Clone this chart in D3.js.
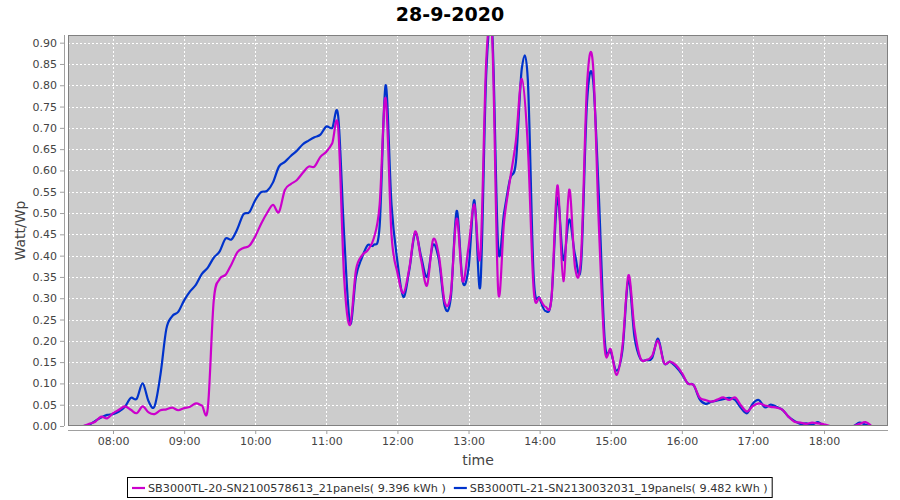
<!DOCTYPE html>
<html><head><meta charset="utf-8">
<script src="https://cdn.jsdelivr.net/npm/d3@7/dist/d3.min.js"></script>
<style>
body{margin:0;background:#fff}
svg{display:block}
text{font-family:"DejaVu Sans",sans-serif}
</style>
</head><body>
<svg id="chart" width="900" height="500"></svg>
<script>
// ---------------- data ----------------
const chartTitle = "28-9-2020";
const xAxisTitle = "time";
const yAxisTitle = "Watt/Wp";
const seriesNames = [
  "SB3000TL-20-SN2100578613_21panels( 9.396 kWh )",
  "SB3000TL-21-SN2130032031_19panels( 9.482 kWh )"
];
const startTime = "07:35";   // first sample
const stepMinutes = 5;       // sampling interval
const xDomainLabels = ["07:22", "18:54"];
const xTickLabels = ["08:00","09:00","10:00","11:00","12:00","13:00","14:00","15:00","16:00","17:00","18:00"];
const yTicks = [0,0.05,0.10,0.15,0.20,0.25,0.30,0.35,0.40,0.45,0.50,0.55,0.60,0.65,0.70,0.75,0.80,0.85,0.90];
const yMax = 0.918;

// SB3000TL-20 (magenta), 07:35 .. 18:40 every 5 min
const magentaValues = [
  0.000,0.005,0.010,0.022,0.018,            // 07:35-07:55
  0.030,0.038,0.046,0.038,0.030,0.046,0.032,0.028,0.037,0.039,0.043,0.037, // 08:00-08:55
  0.042,0.045,0.053,0.048,0.042,0.295,0.345,0.355,0.380,0.408,0.418,0.423, // 09:00-09:55
  0.445,0.475,0.500,0.519,0.502,0.554,0.568,0.577,0.594,0.609,0.609,0.632, // 10:00-10:55
  0.644,0.664,0.700,0.350,0.237,0.366,0.400,0.413,0.440,0.520,0.770,0.450, // 11:00-11:55
  0.360,0.312,0.370,0.457,0.390,0.330,0.437,0.400,0.290,0.310,0.487,0.340, // 12:00-12:55
  0.420,0.520,0.400,0.860,0.910,0.320,0.480,0.578,0.670,0.815,0.660,0.320, // 13:00-13:55
  0.300,0.280,0.300,0.565,0.340,0.555,0.370,0.400,0.800,0.850,0.470,0.180, // 14:00-14:55
  0.180,0.120,0.190,0.354,0.230,0.160,0.155,0.165,0.200,0.148,0.151,0.143, // 15:00-15:55
  0.125,0.100,0.096,0.067,0.061,0.057,0.062,0.067,0.061,0.067,0.048,0.034, // 16:00-16:55
  0.047,0.053,0.048,0.045,0.043,0.038,0.022,0.010,0.008,0.005,0.008,0.006, // 17:00-17:55
  0.004,0.000,0.000,0.000,0.000,0.000,0.005,0.009,0.000                    // 18:00-18:40
];
// SB3000TL-21 (blue)
const blueValues = [
  0.000,0.003,0.012,0.020,0.026,
  0.028,0.034,0.045,0.066,0.064,0.100,0.058,0.046,0.120,0.228,0.258,0.268,
  0.295,0.316,0.332,0.357,0.372,0.395,0.410,0.440,0.438,0.463,0.497,0.502,
  0.530,0.549,0.552,0.572,0.609,0.620,0.634,0.646,0.661,0.670,0.678,0.684,
  0.703,0.700,0.728,0.450,0.241,0.350,0.395,0.425,0.425,0.470,0.800,0.520,
  0.386,0.303,0.366,0.453,0.398,0.350,0.425,0.390,0.280,0.300,0.505,0.340,
  0.370,0.530,0.330,0.830,0.925,0.420,0.500,0.580,0.620,0.840,0.815,0.350,
  0.300,0.270,0.300,0.535,0.390,0.485,0.400,0.380,0.760,0.815,0.540,0.200,
  0.175,0.130,0.180,0.345,0.210,0.158,0.155,0.160,0.205,0.148,0.151,0.139,
  0.122,0.100,0.096,0.063,0.052,0.057,0.060,0.063,0.066,0.061,0.042,0.030,
  0.053,0.061,0.044,0.050,0.045,0.038,0.022,0.012,0.005,0.006,0.003,0.009,
  0.000,0.000,0.000,0.000,0.000,0.000,0.008,0.003,0.000
];

// ---------------- chart ----------------
const svg = d3.select("#chart");
const W = 900, H = 500;
const plot = {left: 68, right: 888, top: 35, bottom: 426};
const parseT = d3.timeParse("%Y-%m-%d %H:%M");
const day = "2020-09-28 ";
const t0 = parseT(day + startTime);

const x = d3.scaleTime()
  .domain(xDomainLabels.map(s => parseT(day + s)))
  .range([plot.left, plot.right]);
const y = d3.scaleLinear().domain([0, yMax]).range([plot.bottom, plot.top]);

svg.append("rect").attr("width", W).attr("height", H).attr("fill", "#fff");

// plot background
svg.append("rect")
  .attr("x", plot.left).attr("y", plot.top)
  .attr("width", plot.right - plot.left).attr("height", plot.bottom - plot.top)
  .attr("fill", "#cccccc");

const xTicks = xTickLabels.map(s => parseT(day + s));

// grid
const grid = svg.append("g").attr("stroke", "#ffffff").attr("stroke-width", 1)
  .attr("stroke-dasharray", "2,2").attr("shape-rendering", "crispEdges");
grid.selectAll("line.h").data(yTicks.filter(v => v > 0)).join("line")
  .attr("x1", plot.left).attr("x2", plot.right)
  .attr("y1", d => Math.round(y(d)) + 0.5).attr("y2", d => Math.round(y(d)) + 0.5);
grid.selectAll("line.v").data(xTicks).join("line")
  .attr("y1", plot.top).attr("y2", plot.bottom)
  .attr("x1", d => Math.round(x(d)) + 0.5).attr("x2", d => Math.round(x(d)) + 0.5);

// clip
svg.append("clipPath").attr("id", "clip").append("rect")
  .attr("x", plot.left).attr("y", plot.top)
  .attr("width", plot.right - plot.left).attr("height", plot.bottom - plot.top);

const makeSeries = vals => vals.map((v, i) => ({t: d3.timeMinute.offset(t0, i * stepMinutes), v}));
const line = d3.line().x(d => x(d.t)).y(d => y(d.v)).curve(d3.curveCardinal.tension(0));

const seriesColors = ["#cc00cc", "#0033cc"];
const seriesData = [makeSeries(magentaValues), makeSeries(blueValues)];

const lines = svg.append("g").attr("clip-path", "url(#clip)");
// draw blue first so magenta (series 0) is on top
[1, 0].forEach(k => {
  lines.append("path").datum(seriesData[k])
    .attr("fill", "none").attr("stroke", seriesColors[k])
    .attr("stroke-width", 2.2).attr("stroke-linejoin", "round")
    .attr("d", line);
});

// plot outline
svg.append("rect")
  .attr("x", plot.left + 0.5).attr("y", plot.top + 0.5)
  .attr("width", plot.right - plot.left - 1).attr("height", plot.bottom - plot.top - 1)
  .attr("fill", "none").attr("stroke", "#808080").attr("stroke-width", 1);

// y axis
const yAxis = d3.axisLeft(y).tickValues(yTicks).tickFormat(d3.format(".2f")).tickSize(4).tickPadding(3);
const gy = svg.append("g").attr("transform", `translate(${plot.left - 4},0)`).call(yAxis);
gy.select(".domain").attr("stroke", "#a0a0a0").attr("d", `M0.5,${plot.top}V${plot.bottom}`);
gy.selectAll(".tick line").attr("stroke", "#a0a0a0");
gy.selectAll(".tick text").attr("fill", "#444").attr("font-size", 11).attr("font-family", "DejaVu Sans");

// x axis
const xAxis = d3.axisBottom(x).tickValues(xTicks).tickFormat(d3.timeFormat("%H:%M")).tickSize(4).tickPadding(3);
const gx = svg.append("g").attr("transform", `translate(0,${plot.bottom + 4})`).call(xAxis);
gx.select(".domain").attr("stroke", "#a0a0a0").attr("d", `M${plot.left},0.5H${plot.right}`);
gx.selectAll(".tick line").attr("stroke", "#a0a0a0");
gx.selectAll(".tick text").attr("fill", "#444").attr("font-size", 11).attr("font-family", "DejaVu Sans");

// titles
svg.append("text").attr("x", 450).attr("y", 21).attr("text-anchor", "middle")
  .attr("font-size", 19).attr("font-weight", "bold").attr("fill", "#000").text(chartTitle);
svg.append("text").attr("x", (plot.left + plot.right) / 2).attr("y", 465).attr("text-anchor", "middle")
  .attr("font-size", 14).attr("fill", "#444").text(xAxisTitle);
svg.append("text").attr("transform", `translate(25,${(plot.top + plot.bottom) / 2}) rotate(-90)`)
  .attr("text-anchor", "middle").attr("font-size", 14).attr("fill", "#444").text(yAxisTitle);

// legend
const lg = svg.append("g");
const box = lg.append("rect").attr("fill", "#fff").attr("stroke", "#000").attr("stroke-width", 1);
let cx = 0;
const items = lg.append("g");
seriesNames.forEach((name, k) => {
  const g = items.append("g").attr("transform", `translate(${cx},0)`);
  g.append("line").attr("x1", 0).attr("x2", 13).attr("y1", 0).attr("y2", 0)
    .attr("stroke", seriesColors[k]).attr("stroke-width", 2.2);
  const t = g.append("text").attr("x", 16).attr("y", 4).attr("font-size", 11.2).attr("fill", "#333").text(name);
  cx += 16 + t.node().getComputedTextLength() + 8;
});
const totalW = cx - 8;
const lx = Math.round(450 - totalW / 2);
items.attr("transform", `translate(${lx},488)`);
box.attr("x", lx - 4.5).attr("y", 477.5).attr("width", totalW + 9).attr("height", 20);
</script>
</body></html>
